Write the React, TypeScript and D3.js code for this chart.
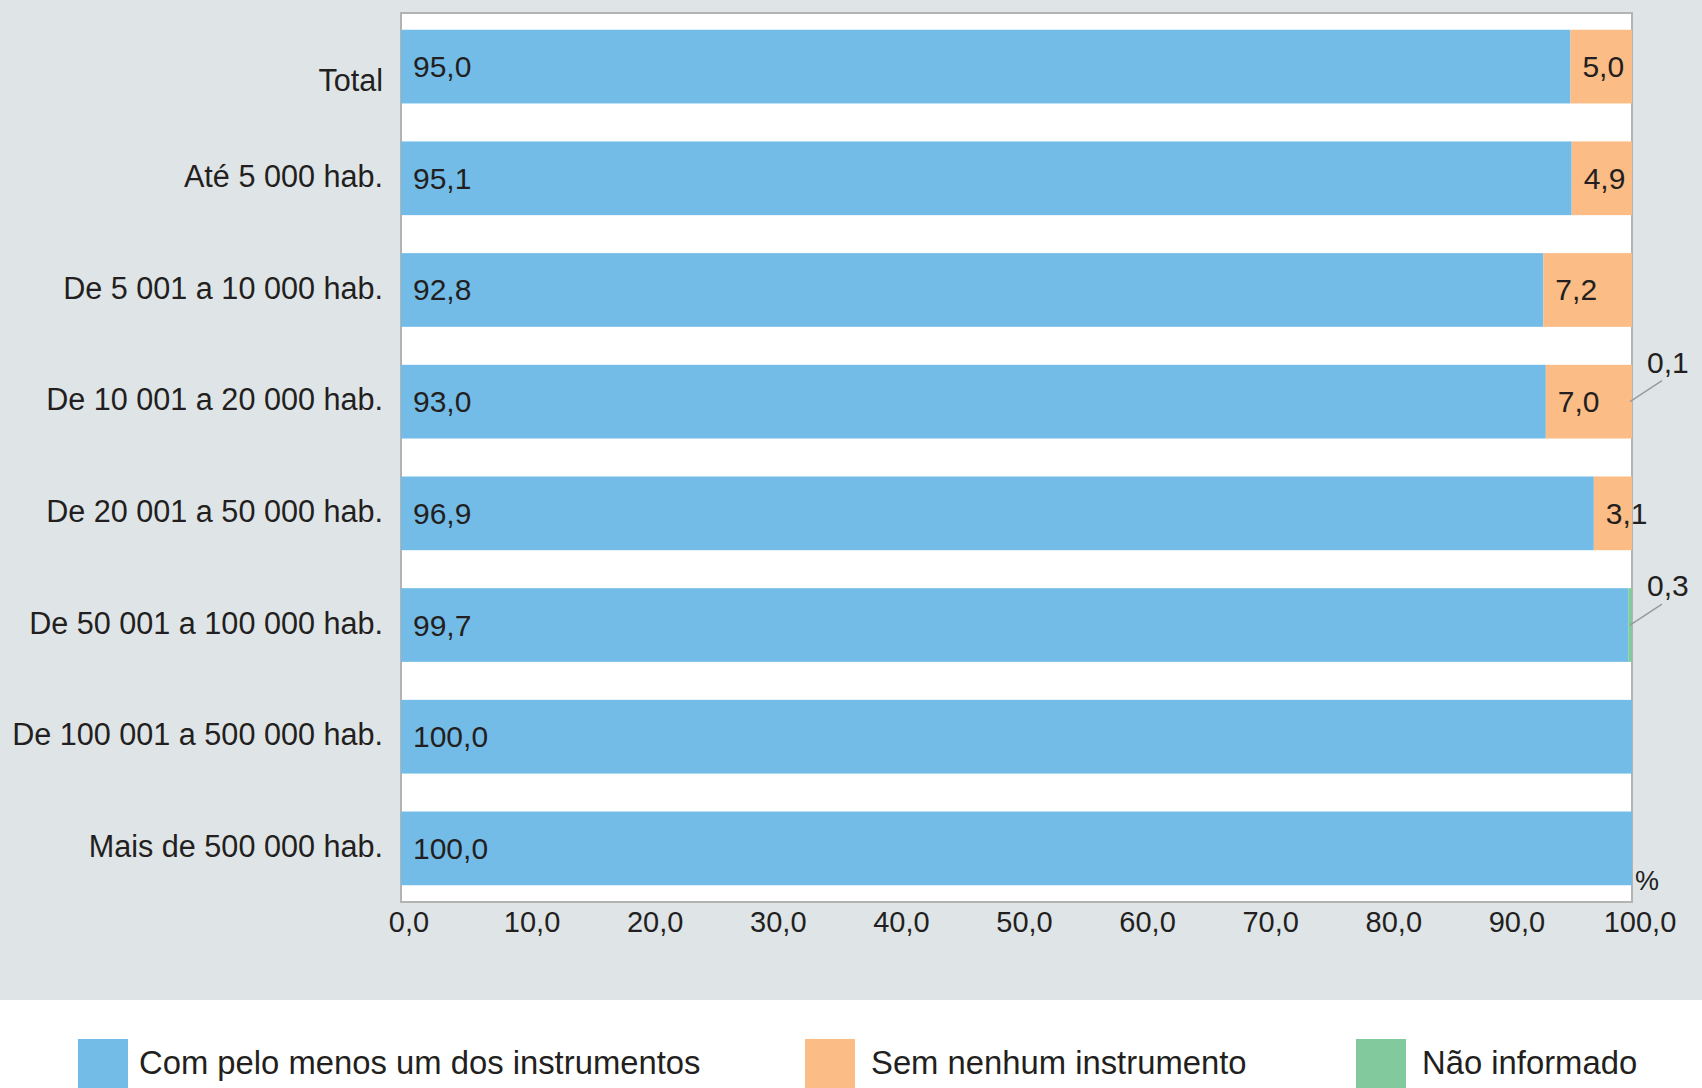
import React from 'react';
import * as d3 from 'd3';

const categories = [
  'Total',
  'Até 5 000 hab.',
  'De 5 001 a 10 000 hab.',
  'De 10 001 a 20 000 hab.',
  'De 20 001 a 50 000 hab.',
  'De 50 001 a 100 000 hab.',
  'De 100 001 a 500 000 hab.',
  'Mais de 500 000 hab.',
];
const comInstrumento = [95.0, 95.1, 92.8, 93.0, 96.9, 99.7, 100.0, 100.0];
const semInstrumento = [5.0, 4.9, 7.2, 7.0, 3.1, 0, 0, 0];
const naoInformado = [0, 0, 0, 0.1, 0, 0.3, 0, 0];

const seriesNames = ['Com pelo menos um dos instrumentos', 'Sem nenhum instrumento', 'Não informado'];
const seriesColors = ['#74bce8', '#fbbc85', '#82c99d'];
const xTicks = [0, 10, 20, 30, 40, 50, 60, 70, 80, 90, 100];

const W = 1702;
const H = 1088;
const FONT = '"Liberation Sans", Arial, sans-serif';
const TXT = '#231f20';

const fmt = (v: number) => v.toFixed(1).replace('.', ',');

export default function App() {
  const plot = { left: 401, right: 1632, top: 13, bottom: 902 };

  const x = d3.scaleLinear().domain([0, 100]).range([plot.left, plot.right]);
  const y = d3.scaleBand<string>()
    .domain(categories)
    .range([plot.top, plot.bottom])
    .paddingInner(0.34)
    .paddingOuter(0.15);

  const rows = categories.map((c, i) => ({ cat: c, com: comInstrumento[i], sem: semInstrumento[i], nao: naoInformado[i] }));
  const stack = d3.stack<any>().keys(['com', 'sem', 'nao'])(rows);

  const bw = y.bandwidth();

  return (
    <svg width={W} height={H} style={{ position: 'absolute', left: 0, top: 0 }} fontFamily={FONT}>
      <defs>
        <clipPath id="plotClip">
          <rect x={plot.left} y={plot.top} width={plot.right - plot.left} height={plot.bottom - plot.top} />
        </clipPath>
      </defs>
      <rect x={0} y={0} width={W} height={1000} fill="#dfe4e7" />
      <rect x={0} y={1000} width={W} height={H - 1000} fill="#ffffff" />

      {/* plot area */}
      <rect x={plot.left} y={plot.top} width={plot.right - plot.left} height={plot.bottom - plot.top}
        fill="#ffffff" stroke="#b3b3b3" strokeWidth={2} />

      <g clipPath="url(#plotClip)">
        {stack.map((layer, si) => (
          <g key={si} fill={seriesColors[si]}>
            {layer.map((d, i) => {
              const w = x(d[1]) - x(d[0]);
              if (w <= 0) return null;
              return <rect key={i} x={x(d[0])} y={y(categories[i])} width={w} height={bw} />;
            })}
          </g>
        ))}
      </g>

      {/* value labels */}
      {stack.slice(0, 2).map((layer, si) => (
        <g key={'l' + si}>
          {layer.map((d, i) => {
            const v = d[1] - d[0];
            if (v <= 0) return null;
            const cy = (y(categories[i]) as number) + bw / 2;
            return (
              <text key={i} x={x(d[0]) + 12} y={cy} dy="0.35em" fontSize={30} fill={TXT}>
                {fmt(v)}
              </text>
            );
          })}
        </g>
      ))}

      {/* small segments with leader lines */}
      {stack[2].map((d, i) => {
        const v = d[1] - d[0];
        if (v <= 0) return null;
        const cy = (y(categories[i]) as number) + bw / 2;
        const x0 = Math.min(x(d[1]), plot.right) - 2;
        return (
          <g key={'n' + i}>
            <line x1={x0} y1={cy} x2={x0 + 32} y2={cy - 21} stroke="#9a9a9a" strokeWidth={1.5} />
            <text x={x0 + 17} y={cy - 29} fontSize={30} fill={TXT}>{fmt(v)}</text>
          </g>
        );
      })}

      {/* category labels */}
      {categories.map((c) => (
        <text key={c} x={383} y={(y(c) as number) + bw / 2 + (c === 'Total' ? 14 : -2)} dy="0.35em"
          textAnchor="end" fontSize={30.6} fill={TXT}>
          {c}
        </text>
      ))}

      {/* x axis labels */}
      {xTicks.map((t) => (
        <text key={t} x={x(t) + 8} y={932} textAnchor="middle" fontSize={29} fill={TXT}>
          {fmt(t)}
        </text>
      ))}
      <text x={1635} y={890} fontSize={27} fill={TXT}>%</text>

      {/* legend */}
      {seriesNames.map((n, i) => {
        const lx = [78, 805, 1356][i];
        return (
          <g key={n}>
            <rect x={lx} y={1039} width={50} height={H - 1039} fill={seriesColors[i]} />
            <text x={lx + 61 + (i === 0 ? 0 : 5)} y={1074} fontSize={32.8} fill={TXT}>{n}</text>
          </g>
        );
      })}
    </svg>
  );
}
